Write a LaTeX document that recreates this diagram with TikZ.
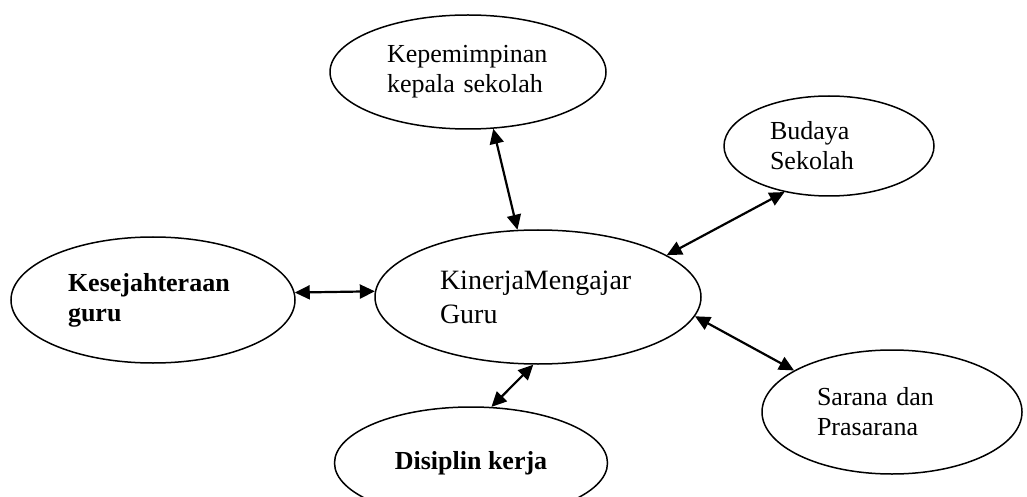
\documentclass[tikz,border=0pt]{standalone}
\usepackage{fontspec}
\setmainfont{Liberation Serif}
\usetikzlibrary{shapes.geometric,arrows.meta}

\tikzset{
	bubble/.style={ellipse, draw, line width=0.75pt, inner sep=0pt, align=left,
		font=\fontsize{13}{15}\selectfont},
	link/.style={{Triangle[length=7.5pt,width=7pt]}-{Triangle[length=7.5pt,width=7pt]},
		line width=1.1pt},
}

\begin{document}
\begin{tikzpicture}[x=0.5pt, y=-0.5pt]

	% ---- frame

	\clip (0,0) rectangle (1027,497);

	% ---- ellipses

	\node[bubble, minimum width=138pt, minimum height=57pt, text width=81pt]
		(kepala) at (468,72) {Kepemimpinan\\kepala sekolah};
	\node[bubble, minimum width=105pt, minimum height=50pt, text width=59pt]
		(budaya) at (829,146) {Budaya\\Sekolah};
	\node[bubble, minimum width=142pt, minimum height=63pt, text width=85pt]
		(sejahtera) at (153,300) {\bfseries Kesejahteraan\\\bfseries guru};
	\node[bubble, minimum width=163pt, minimum height=67pt, text width=98pt,
		font=\fontsize{14}{17}\selectfont]
		(kinerja) at (538,297) {KinerjaMengajar\\Guru};
	\node[bubble, minimum width=136.5pt, minimum height=56pt, align=center]
		(disiplin) at (471,463) {\bfseries Disiplin kerja};
	\node[bubble, minimum width=130pt, minimum height=62pt, text width=75pt]
		(sarana) at (892,412) {Sarana dan\\Prasarana};

	% ---- links

	\draw[link] (kepala.-66) -- (kinerja.107);
	\draw[link] (budaya.-134) -- (kinerja.18);
	\draw[link] (sejahtera.3) -- (kinerja.178);
	\draw[link] (kinerja.-94) -- (disiplin.70);
	\draw[link] (kinerja.-7) -- (sarana.157);

\end{tikzpicture}
\end{document}
